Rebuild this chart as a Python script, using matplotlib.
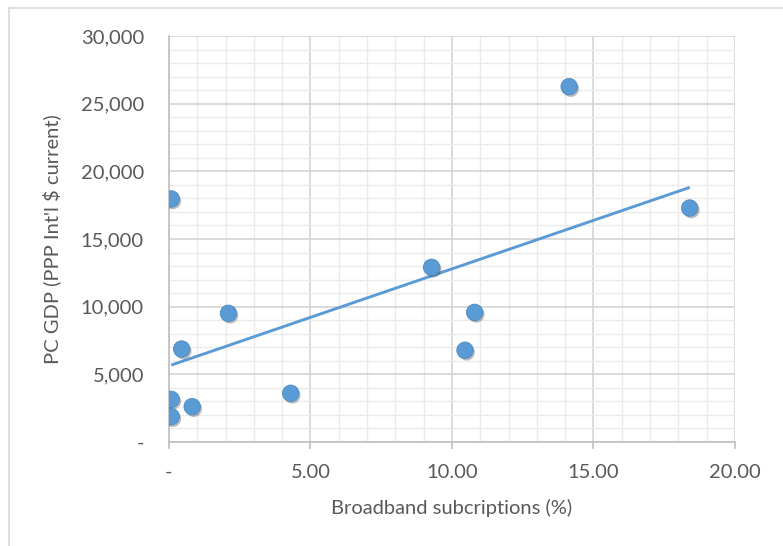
import numpy as np
import matplotlib
matplotlib.use("Agg")
import matplotlib.pyplot as plt
import matplotlib.patheffects as pe
from matplotlib.ticker import MultipleLocator, FuncFormatter
from matplotlib.lines import Line2D

# broadband subscriptions (%) vs per capita GDP (PPP Int'l $ current)
broadband = [0.08, 14.14, 18.40, 9.28, 2.10, 10.80, 0.45, 10.46, 4.30, 0.08, 0.82, 0.08]
gdp = [17960, 26260, 17290, 12910, 9510, 9580, 6870, 6780, 3600, 3150, 2610, 1870]

x_label = "Broadband subcriptions (%)"
y_label = "PC GDP (PPP Int'l $ current)"

blue = "#5B9BD5"
text_grey = "#595959"

plt.rcParams['font.family'] = ['Lato', 'DejaVu Sans']

fig = plt.figure(figsize=(7.83, 5.46), dpi=100)
ax = fig.add_axes([0.2158, 0.1905, 0.7229, 0.7435])

x = np.array(broadband)
y = np.array(gdp)

# linear trendline over data range
k, b = np.polyfit(x, y, 1)
xs = np.array([x.min(), x.max()])
ax.plot(xs, k * xs + b, color=blue, lw=2.1, zorder=3, solid_capstyle="butt")

ax.scatter(x, y, s=140, color=blue, edgecolor="#4A8AC4", linewidth=0.6, zorder=4,
           path_effects=[pe.SimplePatchShadow(offset=(1.2, -1.5), alpha=0.35, shadow_rgbFace="#404040"),
                         pe.Normal()])

ax.set_xlim(0, 20)
ax.set_ylim(0, 30000)
ax.xaxis.set_major_locator(MultipleLocator(5))
ax.xaxis.set_minor_locator(MultipleLocator(1))
ax.yaxis.set_major_locator(MultipleLocator(5000))
ax.yaxis.set_minor_locator(MultipleLocator(1000))

ax.xaxis.set_major_formatter(FuncFormatter(lambda v, p: "-" if v == 0 else f"{v:.2f}"))
ax.yaxis.set_major_formatter(FuncFormatter(lambda v, p: "-" if v == 0 else f"{v:,.0f}"))

ax.grid(which="major", color="#D4D4D4", lw=1.2, zorder=0)
ax.grid(which="minor", color="#EBEBEB", lw=1.0, zorder=0)
ax.set_axisbelow(True)

for side in ["top", "right"]:
    ax.spines[side].set_visible(False)
for side in ["left", "bottom"]:
    ax.spines[side].set_color("#BFBFBF")
    ax.spines[side].set_linewidth(1.2)

ax.tick_params(which="major", length=5, width=1.2, color="#BFBFBF",
               labelsize=14.5, labelcolor=text_grey, pad=11)
ax.tick_params(axis="y", which="major", length=0, pad=18)
ax.tick_params(which="minor", length=0)

ax.set_xlabel(x_label, fontsize=14.5, color=text_grey, labelpad=13)
ax.set_ylabel(y_label, fontsize=14.5, color=text_grey, labelpad=14)

# outer chart border (cropped at the right and bottom)
fig.add_artist(Line2D([9 / 783, 9 / 783], [0, 1 - 8 / 546], transform=fig.transFigure,
                      color="#D9D9D9", lw=1.2))
fig.add_artist(Line2D([9 / 783, 1], [1 - 8 / 546, 1 - 8 / 546], transform=fig.transFigure,
                      color="#D9D9D9", lw=1.2))

fig.savefig("out.png", dpi=100)
